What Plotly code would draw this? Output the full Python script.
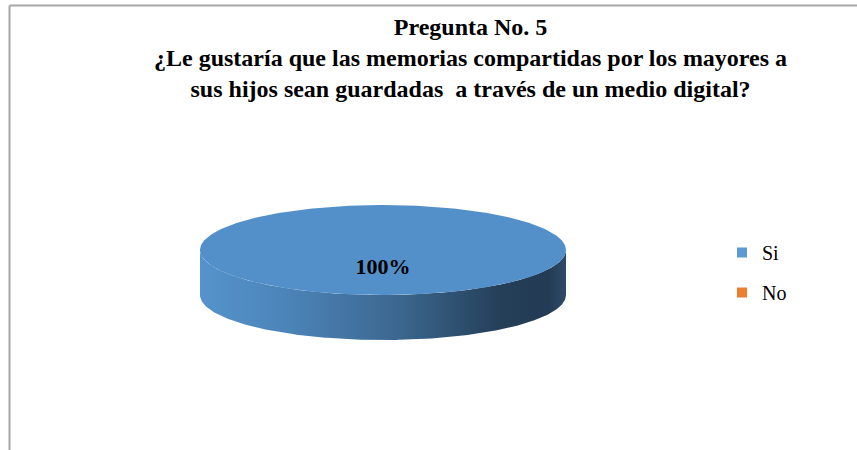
import numpy as np
import plotly.graph_objects as go

# ---- data ----
categories = ["Si", "No"]
values = [100, 0]
legend_colors = ["#5b9bd5", "#ed7d31"]
title_lines = ["Pregunta No. 5",
               "¿Le gustaría que las memorias compartidas por los mayores a",
               "sus hijos sean guardadas  a través de un medio digital?"]

# ---- geometry (axes in screen pixels) ----
W, H = 857, 450
cx, cy, a, b, depth = 383, 250, 183, 45, 45

fig = go.Figure()
total = sum(values)

# side band (front half of the cylinder) with horizontal gradient
front = np.linspace(np.pi, 0, 240)  # left -> right along the front
x_top = cx + a * np.cos(front)
y_top = cy + b * np.sin(front)
x_bot = x_top[::-1]
y_bot = (cy + depth) + b * np.sin(front)[::-1]
side_x = np.concatenate([x_top, [cx + a], x_bot, [cx - a]])
side_y = np.concatenate([y_top, [cy + depth], y_bot, [cy]])
fig.add_trace(go.Scatter(
    x=side_x, y=side_y, mode="lines", fill="toself",
    line=dict(width=0, color="rgba(0,0,0,0)"),
    fillgradient=dict(type="horizontal",
                      colorscale=[[0, "#5593cc"], [0.25, "#4b83b7"], [0.55, "#3b668e"],
                                  [0.82, "#253f59"], [0.95, "#233b54"], [1, "#2d4b69"]]),
    showlegend=False, hoverinfo="skip"))

# top face slices
start = np.pi / 2
for cat, val in zip(categories, values):
    if val <= 0:
        continue
    ang = 2 * np.pi * val / total
    th = np.linspace(start, start - ang, 400)
    px = cx + a * np.cos(th)
    py = cy - b * np.sin(th)
    if val < total:
        px = np.concatenate([[cx], px, [cx]])
        py = np.concatenate([[cy], py, [cy]])
    fig.add_trace(go.Scatter(x=px, y=py, mode="lines", fill="toself",
                             fillcolor="#5390c9", line=dict(width=0, color="#5390c9"),
                             showlegend=False, hoverinfo="skip"))
    mid = start - ang / 2
    r = 0 if val == total else 0.6
    lx = cx + r * a * np.cos(mid)
    ly = cy - r * b * np.sin(mid) + (18 if val == total else 0)
    fig.add_trace(go.Scatter(x=[lx], y=[ly], mode="text",
                             text=[f"<b>{round(100 * val / total)}%</b>"],
                             textfont=dict(family="Liberation Serif", size=22, color="#000000"),
                             showlegend=False, hoverinfo="skip"))
    start -= ang

# legend entries
for cat, col in zip(categories, legend_colors):
    fig.add_trace(go.Scatter(x=[None], y=[None], mode="markers", name=cat,
                             legendgroup=cat,
                             marker=dict(symbol="square", size=10, color=col)))

fig.add_annotation(text="<br>".join(f"<b>{l}</b>" for l in title_lines),
                   x=470, y=12, xref="x", yref="y", xanchor="center", yanchor="top",
                   showarrow=False,
                   font=dict(family="Liberation Serif", size=24, color="#000000"))

# chart-area border (top and left)
fig.add_shape(type="line", xref="x", yref="y", x0=9.5, y0=5.5, x1=860, y1=5.5,
              line=dict(color="#a6a6a6", width=2))
fig.add_shape(type="line", xref="x", yref="y", x0=9.5, y0=5.5, x1=9.5, y1=460,
              line=dict(color="#a6a6a6", width=2))

fig.update_layout(
    width=W, height=H, margin=dict(l=0, r=0, t=0, b=0),
    paper_bgcolor="white", plot_bgcolor="white",
    font=dict(family="Liberation Serif", color="#000000"),
    xaxis=dict(range=[0, W], visible=False, fixedrange=True),
    yaxis=dict(range=[H, 0], visible=False, fixedrange=True),
    legend=dict(x=722 / W, y=1 - 233 / H,
                xanchor="left", yanchor="top",
                font=dict(family="Liberation Serif", size=20, color="#000000"),
                tracegroupgap=11, itemwidth=30, bgcolor="rgba(0,0,0,0)"),
    showlegend=True,
)
fig.write_html("out.html", config={"displayModeBar": False},
               post_script="document.body.style.margin='0';document.body.style.overflow='hidden';")
